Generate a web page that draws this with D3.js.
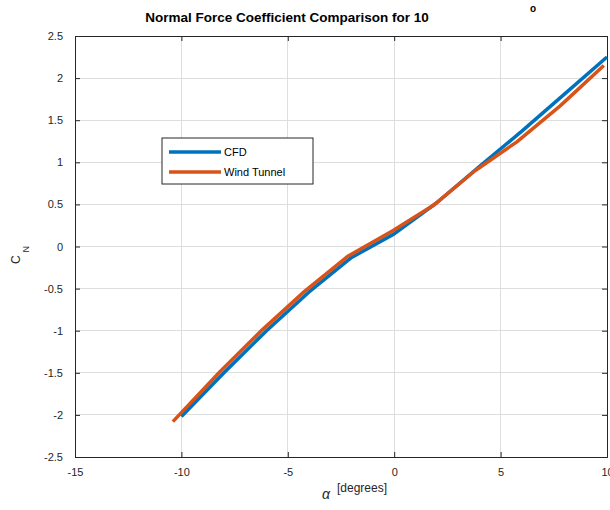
<!DOCTYPE html>
<html lang="en">
<head>
<meta charset="UTF-8">
<title>Normal Force Coefficient Comparison</title>
<style>
    body{margin:0;background:#fff;}
    text{font-family:"Liberation Sans",Arial,Helvetica,sans-serif;}
    .tick text{fill:#262626;font-size:11px;}
    .grid line{stroke:#dedede;stroke-width:1;shape-rendering:crispEdges;}
</style>
<script src="https://cdn.jsdelivr.net/npm/d3@7"></script>
</head>
<body>
<script>
// data
var cfdAlpha = [-10, -8, -6, -4, -2, 0, 2, 4, 6, 8, 10];
var cfdCN = [-2.02, -1.5, -1.0, -0.54, -0.13, 0.15, 0.52, 0.95, 1.37, 1.81, 2.25];
var wtAlpha = [-10.4, -8.2, -6.2, -4.2, -2.2, -0.05, 1.9, 3.8, 5.75, 7.8, 9.85];
var wtCN = [-2.08, -1.49, -0.99, -0.53, -0.12, 0.19, 0.5, 0.9, 1.24, 1.67, 2.15];
var xTicks = [-15, -10, -5, 0, 5, 10];
var yTicks = [-2.5, -2, -1.5, -1, -0.5, 0, 0.5, 1, 1.5, 2, 2.5];
var seriesNames = ["CFD", "Wind Tunnel"];
var seriesColors = ["#0072BD", "#D95319"];

var width = 610, height = 510;
var padding = {top:36, right:3, bottom:53, left:75};

var svg = d3.select("body").append("svg")
    .attr("width", width)
    .attr("height", height);

var xScale = d3.scaleLinear().domain([-15, 10]).range([padding.left, width - padding.right]);
var yScale = d3.scaleLinear().domain([-2.5, 2.5]).range([height - padding.bottom, padding.top]);

// grid
svg.append("g").attr("class","grid")
    .selectAll("line").data(xTicks).enter().append("line")
    .attr("x1", function(d){return xScale(d);}).attr("x2", function(d){return xScale(d);})
    .attr("y1", yScale(2.5)).attr("y2", yScale(-2.5));
svg.append("g").attr("class","grid")
    .selectAll("line").data(yTicks).enter().append("line")
    .attr("y1", function(d){return yScale(d);}).attr("y2", function(d){return yScale(d);})
    .attr("x1", xScale(-15)).attr("x2", xScale(10));

// axes (ticks inside like matlab)
var fmt = function(d){return String(d);};
var xAxis = d3.axisBottom(xScale).tickValues(xTicks).tickSize(-5).tickPadding(11).tickFormat(fmt);
var yAxis = d3.axisLeft(yScale).tickValues(yTicks).tickSize(-5).tickPadding(12).tickFormat(fmt);
var xTop = d3.axisTop(xScale).tickValues(xTicks).tickSize(-5).tickFormat("");
var yRight = d3.axisRight(yScale).tickValues(yTicks).tickSize(-5).tickFormat("");

function styleAxis(g){
    g.select(".domain").attr("stroke","#262626").attr("stroke-width",1);
    g.selectAll(".tick line").attr("stroke","#262626");
}
svg.append("g").attr("transform","translate(0,"+(height-padding.bottom)+")").call(xAxis).call(styleAxis);
svg.append("g").attr("transform","translate("+padding.left+",0)").call(yAxis).call(styleAxis);
svg.append("g").attr("transform","translate(0,"+padding.top+")").call(xTop).call(styleAxis);
svg.append("g").attr("transform","translate("+(width-padding.right)+",0)").call(yRight).call(styleAxis);

// lines
var line = d3.line()
    .x(function(d){return xScale(d[0]);})
    .y(function(d){return yScale(d[1]);});

var series = [
    d3.zip(cfdAlpha, cfdCN),
    d3.zip(wtAlpha, wtCN)
];
series.forEach(function(s, i){
    svg.append("path")
        .attr("d", line(s))
        .attr("fill","none")
        .attr("stroke", seriesColors[i])
        .attr("stroke-width", 3.5)
        .attr("stroke-linejoin","round");
});

// legend
var legend = svg.append("g").attr("transform","translate(162,138)");
legend.append("rect").attr("width",151).attr("height",46)
    .attr("fill","#fff").attr("stroke","#262626").attr("stroke-width",1);
seriesNames.forEach(function(n, i){
    legend.append("line").attr("x1",7).attr("x2",59)
        .attr("y1",14+20*i).attr("y2",14+20*i)
        .attr("stroke",seriesColors[i]).attr("stroke-width",3.5);
    legend.append("text").attr("x",62).attr("y",18+20*i)
        .attr("font-size","11px").attr("fill","#000").text(n);
});

// title
svg.append("text").attr("x",287).attr("y",22).attr("text-anchor","middle")
    .attr("font-size","13.5px").attr("font-weight","bold").attr("fill","#000")
    .text("Normal Force Coefficient Comparison for 10");
svg.append("text").attr("x",533).attr("y",12).attr("text-anchor","middle")
    .attr("font-size","10px").attr("font-weight","bold").attr("fill","#000").text("o");

// y label
var yl = svg.append("text").attr("transform","translate(20,255) rotate(-90)")
    .attr("text-anchor","middle").attr("fill","#262626").attr("font-size","12px");
yl.append("tspan").text("C");
yl.append("tspan").attr("dx",3).attr("dy",9).attr("font-size","9px").text("N");

// x label
svg.append("text").attr("x",326).attr("y",499).attr("text-anchor","middle")
    .attr("font-family","'DejaVu Serif',serif").attr("font-style","italic")
    .attr("font-size","14px").attr("fill","#262626").text("\u03b1");
svg.append("text").attr("x",337).attr("y",492)
    .attr("font-size","12px").attr("fill","#262626").text("[degrees]");
</script>
</body>
</html>
